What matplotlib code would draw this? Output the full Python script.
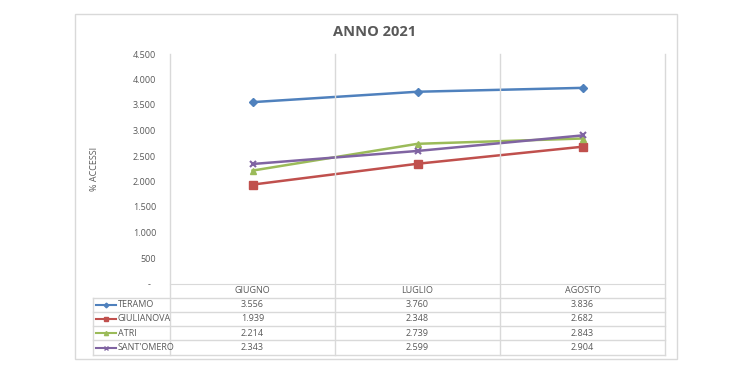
import matplotlib
matplotlib.use("Agg")
from matplotlib import pyplot as plt
from matplotlib.lines import Line2D
from matplotlib.patches import Rectangle
from matplotlib import transforms

# dati
mesi = ["GIUGNO", "LUGLIO", "AGOSTO"]
teramo = [3556, 3760, 3836]
giulianova = [1939, 2348, 2682]
atri = [2214, 2739, 2843]
sant_omero = [2343, 2599, 2904]

serie = [
    ("TERAMO", teramo, "#4F81BD", "D", 4),
    ("GIULIANOVA", giulianova, "#C0504D", "s", 6),
    ("ATRI", atri, "#9BBB59", "^", 5),
    ("SANT'OMERO", sant_omero, "#8064A2", "x", 5),
]

W, H = 750, 375
GRIGIO = "#D9D9D9"
TESTO = "#595959"
FONT = ["Open Sans", "DejaVu Sans"]
plt.rcParams["font.family"] = FONT


def fx(px):
    return px / W


def fy(py):
    return 1 - py / H


def formato(v):
    if v == 0:
        return "-  "
    return f"{v:,.0f}".replace(",", ".")


fig = plt.figure(figsize=(7.5, 3.75), dpi=100)

# cornice esterna del grafico
fig.add_artist(Rectangle((fx(75), fy(359)), fx(677) - fx(75), fy(14) - fy(359),
                         transform=fig.transFigure, fill=False, edgecolor=GRIGIO, lw=1))

x_sx, x_dx, y_alto, y_basso = 170, 665, 54, 283.5
ax = fig.add_axes([fx(x_sx), fy(y_basso), fx(x_dx) - fx(x_sx), fy(y_alto) - fy(y_basso)])

x = list(range(len(mesi)))
for nome, valori, colore, marker, ms in serie:
    ax.plot(x, valori, color=colore, lw=1.8, marker=marker, ms=ms,
            mew=1.5 if marker == "x" else 1, zorder=3)

ax.set_xlim(-0.5, len(mesi) - 0.5)
ax.set_ylim(0, 4500)
ax.set_yticks(range(0, 4501, 500))
ax.set_yticklabels([formato(v) for v in range(0, 4501, 500)])
ax.set_xticks([])
ax.tick_params(axis="y", length=0, labelsize=6.5, labelcolor=TESTO, pad=10)
for lato in ["top", "right", "left"]:
    ax.spines[lato].set_visible(False)
ax.spines["bottom"].set_color(GRIGIO)
ax.set_ylabel("% ACCESSI", fontsize=6.5, color=TESTO, labelpad=24)

fig.suptitle("ANNO 2021", y=fy(32), va="center", fontsize=10.5,
             fontweight="bold", color=TESTO)

# linee verticali (bordi categorie), fino in fondo alla tabella
bt = transforms.blended_transform_factory(ax.transData, fig.transFigure)
y_righe = [283.5, 297.5, 311.7, 326, 340.2, 355]
for xv in [-0.5, 0.5, 1.5, 2.5]:
    fig.add_artist(Line2D([xv, xv], [fy(y_alto), fy(y_righe[-1])], transform=bt,
                          color=GRIGIO, lw=1, zorder=1))

# tabella dati
for yr in y_righe[1:]:
    fig.add_artist(Line2D([fx(93), fx(x_dx)], [fy(yr), fy(yr)],
                          transform=fig.transFigure, color=GRIGIO, lw=1))
fig.add_artist(Line2D([fx(93), fx(93)], [fy(y_righe[1]), fy(y_righe[-1])],
                      transform=fig.transFigure, color=GRIGIO, lw=1))

yc = [(y_righe[i] + y_righe[i + 1]) / 2 for i in range(len(y_righe) - 1)]
for i, mese in enumerate(mesi):
    fig.text(i, fy(yc[0]), mese, transform=bt, ha="center", va="center",
             fontsize=6.5, color=TESTO)
for r, (nome, valori, colore, marker, ms) in enumerate(serie):
    y = fy(yc[r + 1])
    fig.add_artist(Line2D([fx(96), fx(116)], [y, y], transform=fig.transFigure,
                          color=colore, lw=1.5))
    fig.add_artist(Line2D([fx(106)], [y], transform=fig.transFigure, color=colore,
                          marker=marker, ms=ms * 0.6, mew=1))
    fig.text(fx(118), y, nome, ha="left", va="center", fontsize=6.5, color=TESTO)
    for i, v in enumerate(valori):
        fig.text(i, y, formato(v), transform=bt, ha="center", va="center",
                 fontsize=6.5, color=TESTO)

fig.savefig("out.png", dpi=100)
